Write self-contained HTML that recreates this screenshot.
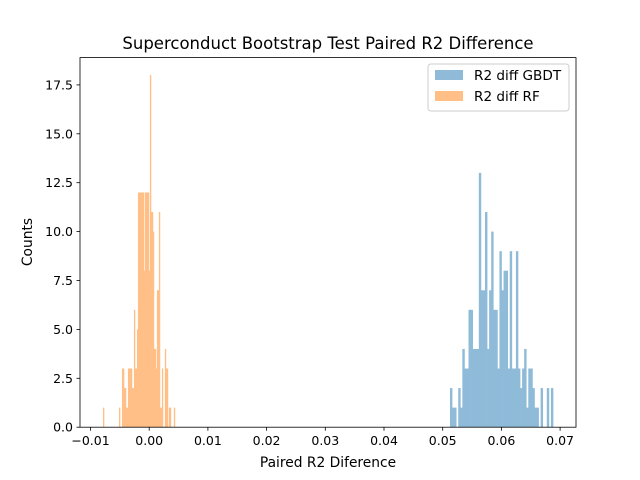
<!DOCTYPE html>
<html><head><meta charset="utf-8"><style>
body{margin:0;background:#fff}
svg{display:block;font-family:"DejaVu Sans","Liberation Sans",sans-serif}
</style></head><body>
<svg id="chart" width="640" height="480" xmlns="http://www.w3.org/2000/svg">
<rect width="640" height="480" fill="#fff"/>
<text x="328" y="49" font-size="16.5" text-anchor="middle">Superconduct Bootstrap Test Paired R2 Difference</text>
<g id="bars"></g>
<rect x="80" y="57.6" width="496" height="369.6" fill="none" stroke="#000" stroke-width="0.8"/>
<g id="xt"></g>
<g id="yt"></g>
<text x="328" y="467" font-size="13.8" text-anchor="middle">Paired R2 Diference</text>
<text transform="translate(32,242) rotate(-90)" font-size="13.8" text-anchor="middle">Counts</text>
<g>
<rect x="428" y="64" width="141" height="47" rx="3" fill="#fff" fill-opacity="0.8" stroke="#ccc" stroke-width="1"/>
<rect x="435" y="70" width="28" height="10" fill="#8fbbd9"/>
<text x="474" y="80" font-size="13.6">R2 diff GBDT</text>
<rect x="435" y="91" width="28" height="10" fill="#ffbf86"/>
<text x="474" y="101" font-size="13.6">R2 diff RF</text>
</g>
</svg>
<script>
const gbdtStart = 0.05124;
const gbdtWidth = 0.000351;
const gbdtCounts = [2,1,1,0,2,1,4,3,3,6,6,4,4,4,13,7,7,11,4,7,10,6,6,3,9,7,8,8,3,9,3,3,9,3,2,3,4,1,3,3,2,1,1,0,2,0,0,2,0,2];
const rfStart = -0.00787;
const rfWidth = 0.00017;
const rfCounts = [1,0,0,0,0,0,0,0,0,0,0,0,0,0,0,0,1,0,0,3,3,2,2,1,1,3,3,3,3,2,2,6,3,3,5,12,12,12,12,12,12,8,12,12,12,12,8,18,11,11,10,4,4,3,7,7,11,1,1,3,0,0,4,3,3,0,1,1,0,0,0,1];
const xTicks = [-0.01,0,0.01,0.02,0.03,0.04,0.05,0.06,0.07];
const xTickLabels = ["−0.01","0.00","0.01","0.02","0.03","0.04","0.05","0.06","0.07"];
const yTicks = [0,2.5,5,7.5,10,12.5,15,17.5];
const yTickLabels = ["0.0","2.5","5.0","7.5","10.0","12.5","15.0","17.5"];

const NS = "http://www.w3.org/2000/svg";
function xs(v){return 90.5 + (v + 0.01) * 5870;}
function ys(v){return 427.2 - v * 19.56;}
const bars = document.getElementById('bars');
function drawHist(start, w, counts, color, name){
  counts.forEach((c,i)=>{
    if(c<=0) return;
    const r = document.createElementNS(NS,'rect');
    const x0 = xs(start + i*w), x1 = xs(start + (i+1)*w);
    r.setAttribute('x', x0); r.setAttribute('width', x1-x0+0.35);
    r.setAttribute('y', ys(c)); r.setAttribute('height', ys(0)-ys(c));
    r.setAttribute('fill', color);
    
    
    bars.appendChild(r);
  });
}
drawHist(gbdtStart, gbdtWidth, gbdtCounts, '#8fbbd9', 'gbdt-bar');
drawHist(rfStart, rfWidth, rfCounts, '#ffbf86', 'rf-bar');
const xt = document.getElementById('xt');
xTicks.forEach((v,i)=>{
  const x = xs(v);
  const l = document.createElementNS(NS,'line');
  l.setAttribute('x1',x);l.setAttribute('x2',x);l.setAttribute('y1',427.2);l.setAttribute('y2',430.7);
  l.setAttribute('stroke','#000');l.setAttribute('stroke-width','0.8');
  
  
  xt.appendChild(l);
  const t = document.createElementNS(NS,'text');
  t.setAttribute('x',x);t.setAttribute('y',445);t.setAttribute('font-size','12.5');t.setAttribute('text-anchor','middle');
  t.textContent = xTickLabels[i];
  
  
  xt.appendChild(t);
});
const yt = document.getElementById('yt');
yTicks.forEach((v,i)=>{
  const y = ys(v);
  const l = document.createElementNS(NS,'line');
  l.setAttribute('x1',76.5);l.setAttribute('x2',80);l.setAttribute('y1',y);l.setAttribute('y2',y);
  l.setAttribute('stroke','#000');l.setAttribute('stroke-width','0.8');
  
  
  yt.appendChild(l);
  const t = document.createElementNS(NS,'text');
  t.setAttribute('x',73);t.setAttribute('y',y+4.5);t.setAttribute('font-size','12.5');t.setAttribute('text-anchor','end');
  t.textContent = yTickLabels[i];
  
  
  yt.appendChild(t);
});
</script>
</body></html>
